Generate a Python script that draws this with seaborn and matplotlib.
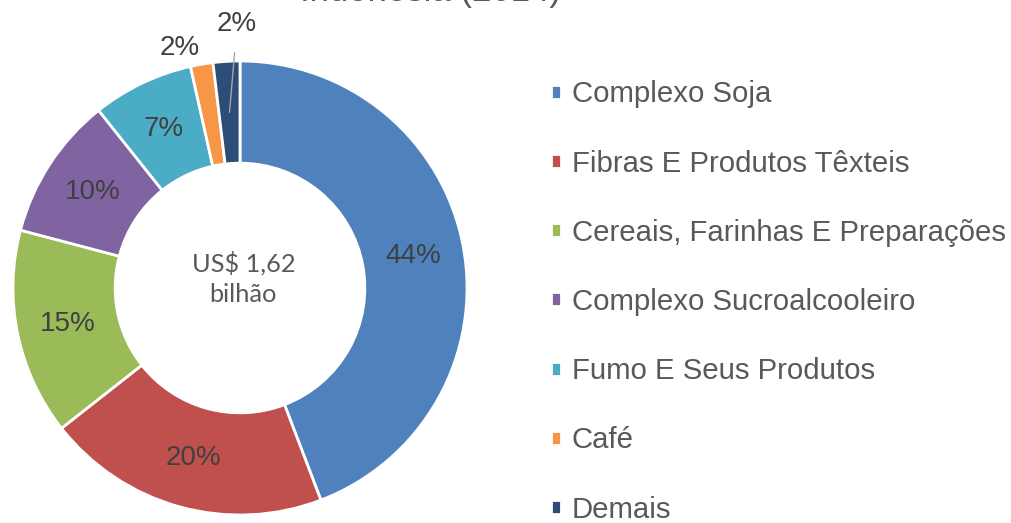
import matplotlib
matplotlib.use("Agg")
import matplotlib.pyplot as plt
import seaborn as sns
import numpy as np

# data: share of exports to Indonesia (%)
categories = ["Complexo Soja", "Fibras E Produtos Têxteis", "Cereais, Farinhas E Preparações",
              "Complexo Sucroalcooleiro", "Fumo E Seus Produtos", "Café", "Demais"]
shares = [44.2, 20.2, 14.7, 10.2, 7.2, 1.6, 1.9]
colors = ["#4F81BD", "#C0504D", "#9BBB59", "#8064A2", "#4BACC6", "#F79646", "#2C4D75"]
title = "Indonésia (2014)"
center_text = "US$ 1,62\nbilhão"

sns.set_theme(style="white")
plt.rcParams['font.family'] = ['Liberation Sans', 'DejaVu Sans']

fig = plt.figure(figsize=(10.11, 5.23), dpi=100)
ax = fig.add_axes([13 / 1011, 8 / 523, 454 / 1011, 454 / 523])

wedges, _ = ax.pie(shares, colors=colors, startangle=90, counterclock=False,
                   radius=1.0, wedgeprops=dict(width=0.45, edgecolor="white", linewidth=2))
ax.set_xlim(-1, 1)
ax.set_ylim(-1, 1)
ax.set_aspect("equal")
ax.axis("off")

# percentage labels
total = sum(shares)
cum = 0
for i, v in enumerate(shares):
    mid = 90 - (cum + v / 2) / total * 360
    cum += v
    txt = f"{round(v / total * 100):.0f}%"
    r = 0.775
    x, y = r * np.cos(np.radians(mid)), r * np.sin(np.radians(mid))
    if categories[i] == "Café":
        a = np.radians(mid + 4.5)
        ax.text(1.09 * np.cos(a), 1.09 * np.sin(a), txt, ha="center", va="center",
                fontsize=20, color="#404040", clip_on=False)
    elif categories[i] == "Demais":
        ax.annotate(txt, xy=(x, y), xytext=(-0.013, 1.163), ha="center", va="center",
                    fontsize=20, color="#404040", annotation_clip=False,
                    arrowprops=dict(arrowstyle="-", color="#A6A6A6", lw=1, shrinkA=9, shrinkB=0))
    else:
        ax.text(x, y, txt, ha="center", va="center", fontsize=20, color="#404040")

ax.text(0.015, 0.04, center_text, ha="center", va="center", fontsize=18.3,
        color="#595959", family=["Lato", "DejaVu Sans"], linespacing=1.4)

fig.text(430 / 1011, 1 - 1 / 523, title, ha="center", va="baseline",
         fontsize=25, color="#595959")

fig.legend(wedges, categories, loc="center left", bbox_to_anchor=(551 / 1011, 1 - 302 / 523),
           frameon=False, fontsize=21.2, handlelength=0.35, handleheight=0.35,
           handletextpad=0.35, labelspacing=1.4, borderpad=0, borderaxespad=0,
           labelcolor="#595959")

fig.savefig("out.png", dpi=100)
